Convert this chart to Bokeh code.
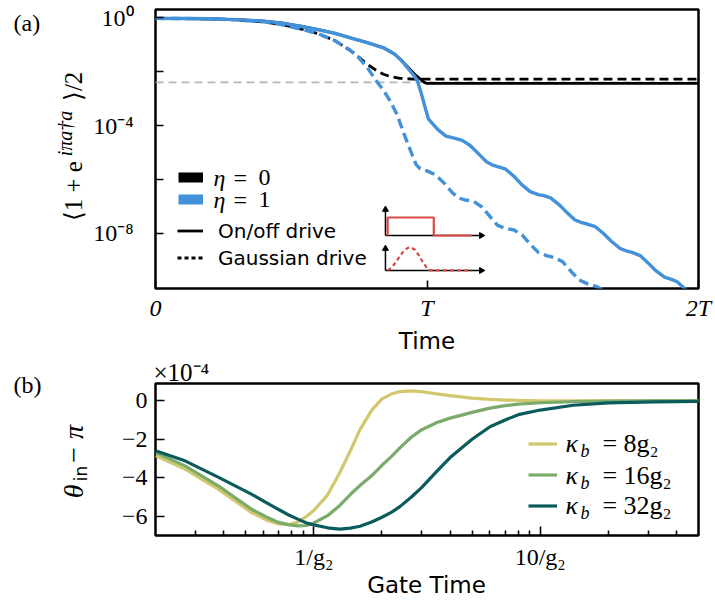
import numpy as np
from bokeh.plotting import figure
from bokeh.models import (Range1d, FixedTicker, CustomJSTickFormatter, Label, Legend,
                          LegendItem, Span, LinearScale)
from bokeh.layouts import column
from bokeh.embed import file_html
from bokeh.resources import INLINE

# ---------------- panel (a) data: time in units of T, values as log10 ----------------
t_blue_onoff = [0, 0.1, 0.2, 0.3, 0.4, 0.47, 0.534, 0.6, 0.66, 0.718, 0.78, 0.84, 0.88, 0.905,
                0.93, 0.95, 0.965, 0.98, 0.995, 1.005, 1.04, 1.07, 1.10, 1.13, 1.16, 1.19, 1.22,
                1.245, 1.263, 1.29, 1.32, 1.35, 1.38, 1.41, 1.43, 1.455, 1.485, 1.515, 1.545,
                1.57, 1.59, 1.62, 1.65, 1.68, 1.71, 1.735, 1.755, 1.785, 1.815, 1.845, 1.875,
                1.9, 1.92, 1.95, 1.98]
log_blue_onoff = [-0.03, -0.033, -0.045, -0.075, -0.13, -0.21, -0.32, -0.45, -0.58, -0.75, -0.93,
                  -1.12, -1.35, -1.58, -1.88, -2.12, -2.35, -2.85, -3.4, -3.75, -4.15, -4.39,
                  -4.47, -4.55, -4.75, -5.05, -5.35, -5.48, -5.53, -5.62, -5.88, -6.2, -6.45,
                  -6.56, -6.6, -6.68, -6.92, -7.22, -7.5, -7.6, -7.65, -7.75, -8.0, -8.3, -8.55,
                  -8.65, -8.7, -8.82, -9.1, -9.4, -9.62, -9.7, -9.78, -10.05, -10.4]

t_black_onoff = [0, 0.1, 0.2, 0.3, 0.4, 0.47, 0.534, 0.6, 0.66, 0.718, 0.78, 0.84, 0.88, 0.905,
                 0.93, 0.96, 0.99, 1.0, 2.0]
log_black_onoff = [-0.03, -0.033, -0.045, -0.075, -0.13, -0.21, -0.32, -0.45, -0.58, -0.75, -0.93,
                   -1.12, -1.35, -1.58, -1.84, -2.15, -2.4, -2.44, -2.44]

t_blue_gauss = [0, 0.1, 0.2, 0.3, 0.4, 0.47, 0.534, 0.6, 0.66, 0.718, 0.75, 0.78, 0.81, 0.84,
                0.865, 0.89, 0.915, 0.94, 0.96, 0.975, 1.0, 1.03, 1.06, 1.09, 1.115, 1.14, 1.17,
                1.2, 1.23, 1.26, 1.29, 1.32, 1.35, 1.38, 1.41, 1.44, 1.47, 1.5, 1.53, 1.56, 1.59,
                1.62, 1.65, 1.68]
log_blue_gauss = [-0.03, -0.033, -0.045, -0.085, -0.16, -0.27, -0.42, -0.6, -0.85, -1.22, -1.5,
                  -1.85, -2.3, -2.7, -3.1, -3.6, -4.3, -4.95, -5.45, -5.6, -5.68, -5.82, -6.1,
                  -6.45, -6.68, -6.76, -6.8, -7.0, -7.35, -7.7, -7.82, -7.87, -8.05, -8.4, -8.7,
                  -8.82, -8.9, -9.05, -9.4, -9.72, -9.86, -9.95, -10.1, -10.3]

t_black_gauss = [0, 0.1, 0.2, 0.3, 0.4, 0.47, 0.534, 0.6, 0.66, 0.718, 0.75, 0.77, 0.79, 0.817,
                 0.84, 0.866, 0.9, 0.95, 1.0, 2.0]
log_black_gauss = [-0.03, -0.033, -0.045, -0.085, -0.16, -0.27, -0.42, -0.6, -0.85, -1.22, -1.47,
                   -1.65, -1.8, -1.98, -2.1, -2.19, -2.25, -2.28, -2.28, -2.28]

gray_level = 10 ** -2.40

x_ticks_a = [0, 1, 2]
x_tick_labels_a = ["0", "T", "2T"]
y_ticks_a = [1e-8, 1e-4, 1.0]
y_minor_a = [1e-6, 1e-2]

# inset drive icons (schematic): time coordinate and icon height (0..1 of the frame)
icon_axes_x0 = [0.847, 0.847, 0.847, 0.847]
icon_axes_y0 = [0.19, 0.19, 0.0645, 0.0645]
icon_axes_x1 = [0.847, 1.2, 0.847, 1.2]
icon_axes_y1 = [0.283, 0.19, 0.143, 0.0645]
pulse_t = [0.855, 0.855, 1.025, 1.025, 1.165]
pulse_v = [0.19, 0.2545, 0.2545, 0.19, 0.19]
bump_t = [0.855, 0.87, 0.885, 0.9, 0.915, 0.93, 0.94, 0.955, 0.97, 0.985, 1.0, 1.013, 1.165]
bump_v = [0.065, 0.075, 0.094, 0.116, 0.135, 0.146, 0.148, 0.139, 0.119, 0.094, 0.073, 0.065, 0.065]

# ---------------- panel (b) data: gate time in units of 1/g2, values in 1e-4 ----------------
x_gate = [0.2, 0.27, 0.38, 0.53, 0.62, 0.7, 0.78, 0.85, 0.93, 1.0, 1.15, 1.3, 1.45, 1.6, 1.8,
          2.0, 2.2, 2.4, 2.7, 3.0, 3.5, 4.0, 5.0, 6.0, 7.0, 8.0, 10, 14, 20, 32, 50]
theta_k8 = [-2.85, -3.55, -4.6, -5.8, -6.2, -6.4, -6.43, -6.3, -6.0, -5.7, -4.9, -3.75, -2.6,
            -1.5, -0.5, 0.1, 0.35, 0.48, 0.52, 0.47, 0.36, 0.27, 0.14, 0.07, 0.04, 0.02, 0.0,
            0.0, 0.0, 0.0, 0.0]
theta_k16 = [-2.68, -3.38, -4.43, -5.63, -6.05, -6.32, -6.45, -6.5, -6.48, -6.35, -5.97, -5.45,
             -4.87, -4.4, -3.9, -3.35, -2.9, -2.45, -1.88, -1.5, -1.13, -0.9, -0.6, -0.38, -0.25,
             -0.17, -0.1, -0.04, -0.01, 0.0, 0.0]
theta_k32 = [-2.6, -3.12, -3.98, -4.85, -5.3, -5.65, -5.95, -6.15, -6.35, -6.45, -6.6, -6.67,
             -6.62, -6.52, -6.3, -6.05, -5.8, -5.5, -5.0, -4.5, -3.65, -2.95, -2.0, -1.35, -1.0,
             -0.72, -0.48, -0.23, -0.11, -0.05, -0.03]
kappa_labels = ["8g\u2082", "16g\u2082", "32g\u2082"]

x_ticks_b = [1, 10]
x_tick_labels_b = ["1/g\u2082", "10/g\u2082"]
x_minor_b = [0.3, 0.4, 0.5, 0.6, 0.7, 0.8, 0.9, 2, 3, 4, 5, 6, 7, 8, 9, 20, 30, 40]
y_ticks_b = [-6, -4, -2, 0]
y_tick_labels_b = ["\u22126", "\u22124", "\u22122", "0"]

# ---------------- styling ----------------
SERIF = "Liberation Serif"
SANS = "DejaVu Sans"
BLUE = "#4391d8"
RED = "#d84848"
C8, C16, C32 = "#d2c76c", "#7aab6b", "#0b5b5c"
NAN = float("nan")
EN, THIN = "\u2002", "\u2009"


def logs_to_vals(logs):
    return [10.0 ** v for v in logs]


def style(p):
    p.grid.visible = False
    p.outline_line_color = "black"
    p.outline_line_width = 2.5
    p.outline_line_alpha = 1.0
    p.background_fill_color = "white"
    p.border_fill_color = "white"
    for ax in (p.xaxis[0], p.yaxis[0]):
        ax.axis_line_color = None
        ax.major_tick_in = 8
        ax.major_tick_out = 0
        ax.major_tick_line_width = 1.6
        ax.major_tick_line_color = "black"
        ax.minor_tick_in = 0
        ax.minor_tick_out = 0
        ax.minor_tick_line_width = 1.6
        ax.minor_tick_line_color = "black"
        ax.major_label_text_font = SERIF
        ax.major_label_text_font_size = "24px"
        ax.major_label_text_color = "black"


def lab(p, text, x, y, xo, yo, size, font=SERIF, style_="normal", align="left",
        baseline="middle", angle=0.0, place="center"):
    lbl = Label(x=x, y=y, x_offset=xo, y_offset=yo, text=text, text_font=font,
                text_font_size=f"{size}px", text_font_style=style_, text_align=align,
                text_baseline=baseline, angle=angle, text_color="black")
    p.add_layout(lbl, place)


# ================= panel (a) =================
Y_LO, Y_HI = 10 ** -10.04, 10 ** 0.3
p1 = figure(width=715, height=352, y_axis_type="log", x_range=Range1d(0, 2),
            y_range=Range1d(Y_LO, Y_HI), output_backend="svg", toolbar_location=None,
            min_border_left=155, min_border_right=17, min_border_top=9, min_border_bottom=64)
p1.extra_y_ranges = {"inset": Range1d(0, 1)}
p1.extra_y_scales = {"inset": LinearScale()}
style(p1)

p1.xaxis.ticker = FixedTicker(ticks=x_ticks_a)
p1.xaxis.formatter = CustomJSTickFormatter(
    args=dict(vals=x_ticks_a, labs=x_tick_labels_a),
    code="const i = vals.indexOf(tick); return i >= 0 ? labs[i] : '';")
p1.xaxis.major_label_text_font_style = "italic"
p1.xaxis.major_label_standoff = 6
p1.yaxis.ticker = FixedTicker(ticks=y_ticks_a, minor_ticks=y_minor_a)
p1.yaxis.minor_tick_in = 8
p1.yaxis.major_label_standoff = 22
p1.yaxis.formatter = CustomJSTickFormatter(code="""
const sup = {"-": "\u207b", "0": "\u2070", "1": "\u00b9", "2": "\u00b2", "3": "\u00b3",
             "4": "\u2074", "5": "\u2075", "6": "\u2076", "7": "\u2077", "8": "\u2078", "9": "\u2079"};
const e = Math.round(Math.log10(tick));
return "10" + String(e).split("").map(c => sup[c]).join("");
""")

p1.add_layout(Span(location=gray_level, dimension="width", line_color="#b5b5b5",
                   line_width=1.6, line_dash="8 5", level="underlay"))

p1.line(t_black_onoff, logs_to_vals(log_black_onoff), line_color="black", line_width=2.8)
p1.line(t_black_gauss, logs_to_vals(log_black_gauss), line_color="black", line_width=2.8,
        line_dash="9 5")
p1.line(t_blue_onoff, logs_to_vals(log_blue_onoff), line_color=BLUE, line_width=3.4)
p1.line(t_blue_gauss, logs_to_vals(log_blue_gauss), line_color=BLUE, line_width=3.4,
        line_dash="10 5")

# drive icons
p1.segment(x0=icon_axes_x0, y0=icon_axes_y0, x1=icon_axes_x1, y1=icon_axes_y1,
           line_color="black", line_width=1.5, y_range_name="inset")
p1.scatter(x=icon_axes_x1, y=icon_axes_y1,
           marker="triangle", size=6, angle=[0, -np.pi / 2, 0, -np.pi / 2],
           fill_color="black", line_color="black", y_range_name="inset")
p1.line(pulse_t, pulse_v, line_color=RED, line_width=2.2, y_range_name="inset")
p1.line(bump_t, bump_v, line_color=RED, line_width=2.2, line_dash="4 3", y_range_name="inset")

# legends (proxies with a single NaN point, drawing nothing in the frame)
r_eta0 = p1.line([NAN], [NAN], line_color="black", line_width=10)
r_eta1 = p1.line([NAN], [NAN], line_color=BLUE, line_width=10)
r_on = p1.line([NAN], [NAN], line_color="black", line_width=2.8)
r_ga = p1.line([NAN], [NAN], line_color="black", line_width=2.8, line_dash="4 3")

leg_eta = Legend(items=[LegendItem(label=" ", renderers=[r_eta0]),
                        LegendItem(label=" ", renderers=[r_eta1])],
                 location=(23, 78), glyph_width=25, glyph_height=22, label_height=22,
                 label_width=1, spacing=0, padding=0, margin=0, label_standoff=0,
                 border_line_color=None, background_fill_alpha=0,
                 label_text_font_size="8px")
leg_drive = Legend(items=[LegendItem(label="On/off drive", renderers=[r_on]),
                          LegendItem(label="Gaussian drive", renderers=[r_ga])],
                   location=(22, 17), glyph_width=26, glyph_height=27, label_height=27,
                   spacing=0, padding=0, margin=0, label_standoff=15,
                   border_line_color=None, background_fill_alpha=0,
                   label_text_font=SANS, label_text_font_size="20px", label_text_color="black")
p1.add_layout(leg_eta)
p1.add_layout(leg_drive)

lab(p1, "\u03b7", 0, Y_LO, 58, 111, 24, style_="italic")
lab(p1, "=", 0, Y_LO, 78, 111, 24)
lab(p1, "0", 0, Y_LO, 103, 111, 24)
lab(p1, "\u03b7", 0, Y_LO, 58, 89, 24, style_="italic")
lab(p1, "=", 0, Y_LO, 78, 89, 24)
lab(p1, "1", 0, Y_LO, 103, 89, 24)

# texts outside the frame go into side panels (not clipped there)
lab(p1, "(a)", 0, Y_HI, -142, -13, 24, place="left")
lab(p1, "\u27e81 + e" + EN * 4 + THIN * 2 + "\u27e9/2", 0, Y_LO, -82, 142, 25,
    align="center", angle=np.pi / 2, place="left")
lab(p1, "i\u03c0a\u2020a", 0, Y_LO, -91, 155, 20, style_="italic", align="center",
    angle=np.pi / 2, place="left")
lab(p1, "Time", 1, Y_LO, 0, -52, 23, font=SANS, align="center", place="below")

# ================= panel (b) =================
XB_LO, XB_HI = 0.2, 50
YB_LO, YB_HI = -7.0, 0.9
p2 = figure(width=715, height=249, x_axis_type="log", x_range=Range1d(XB_LO, XB_HI),
            y_range=Range1d(YB_LO, YB_HI), output_backend="svg", toolbar_location=None,
            min_border_left=155, min_border_right=17, min_border_top=31, min_border_bottom=66)
style(p2)
p2.xaxis.ticker = FixedTicker(ticks=x_ticks_b, minor_ticks=x_minor_b)
p2.xaxis.major_tick_in = 9
p2.xaxis.minor_tick_in = 5
p2.xaxis.major_label_standoff = 8
p2.xaxis.formatter = CustomJSTickFormatter(
    args=dict(vals=x_ticks_b, labs=x_tick_labels_b),
    code="const i = vals.indexOf(tick); return i >= 0 ? labs[i] : '';")
p2.yaxis.ticker = FixedTicker(ticks=y_ticks_b)
p2.yaxis.major_tick_in = 9
p2.yaxis.major_label_standoff = 8
p2.yaxis.formatter = CustomJSTickFormatter(
    args=dict(vals=y_ticks_b, labs=y_tick_labels_b),
    code="const i = vals.indexOf(tick); return i >= 0 ? labs[i] : '';")

r8 = p2.line(x_gate, theta_k8, line_color=C8, line_width=3.2)
r16 = p2.line(x_gate, theta_k16, line_color=C16, line_width=3.2)
r32 = p2.line(x_gate, theta_k32, line_color=C32, line_width=3.2)

leg_k = Legend(items=[LegendItem(label=" ", renderers=[r8]),
                      LegendItem(label=" ", renderers=[r16]),
                      LegendItem(label=" ", renderers=[r32])],
               location=(373, 14), glyph_width=29, glyph_height=31, label_height=31,
               label_width=1, spacing=0, padding=0, margin=0, label_standoff=0,
               border_line_color=None, background_fill_alpha=0, label_text_font_size="8px")
p2.add_layout(leg_k)
for yo, klab in zip([92, 60, 30], kappa_labels):
    lab(p2, "\u03ba", XB_LO, YB_LO, 410, yo, 26, style_="italic")
    lab(p2, "b", XB_LO, YB_LO, 425, yo - 7, 18, style_="italic")
    lab(p2, "=", XB_LO, YB_LO, 447, yo, 26)
    lab(p2, klab, XB_LO, YB_LO, 468, yo, 26)

lab(p2, "(b)", XB_LO, YB_HI, -142, -1, 24, place="left")
lab(p2, "\u00d710\u207b\u2074", XB_LO, YB_HI, -2, 11, 25, baseline="alphabetic", place="above")
lab(p2, "Gate Time", XB_LO, YB_LO, 271, -49, 23, font=SANS, align="center", place="below")
lab(p2, "\u03b8" + EN + THIN + "\u2212 \u03c0", XB_LO, YB_LO, -82, 74, 28, style_="italic",
    align="center", angle=np.pi / 2, place="left")
lab(p2, "in", XB_LO, YB_LO, -75, 62, 17, font=SANS, align="center", angle=np.pi / 2,
    place="left")

layout = column(p1, p2, spacing=0)
open("out.html", "w").write(file_html(layout, INLINE))
